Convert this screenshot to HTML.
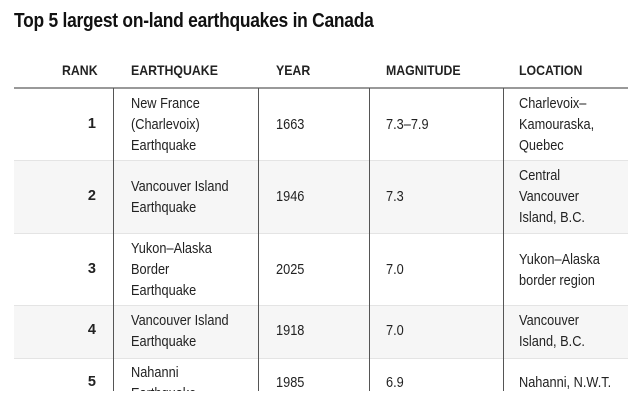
<!DOCTYPE html>
<html><head><style>
body{margin:0;width:640px;height:406px;background:#fff;position:relative;overflow:hidden;font-family:"Liberation Sans",sans-serif;color:#222}
.t{position:absolute;left:14px;top:9px;font-size:20.5px;font-weight:bold;letter-spacing:-0.3px;color:#111;transform:scaleX(0.85);transform-origin:left;white-space:nowrap}
.h{position:absolute;top:62px;font-size:14px;font-weight:bold;color:#222;transform:scaleX(0.88);transform-origin:left;white-space:nowrap}
.row{position:absolute;left:14px;width:614px}
.g{background:#f6f6f6}
.sep{position:absolute;left:14px;width:614px;height:1px;background:#e4e4e4}
.v{position:absolute;top:88px;height:303px;width:1px;background:#555}
.c{position:absolute;font-size:14.5px;line-height:21px;color:#222;transform:scaleX(0.88);transform-origin:left;white-space:nowrap}
.r{position:absolute;width:82px;left:14px;text-align:right;font-weight:bold;font-size:14.5px}
</style></head><body>
<div class="t">Top 5 largest on-land earthquakes in Canada</div>
<div class="h" style="left:62px">RANK</div>
<div class="h" style="left:131px">EARTHQUAKE</div>
<div class="h" style="left:276px">YEAR</div>
<div class="h" style="left:386px">MAGNITUDE</div>
<div class="h" style="left:519px">LOCATION</div>
<div class="row g" style="top:160px;height:73px"></div>
<div class="row g" style="top:305px;height:53px"></div>
<div class="sep" style="top:87px;height:2px;background:#999"></div>
<div class="sep" style="top:160px"></div>
<div class="sep" style="top:233px"></div>
<div class="sep" style="top:305px"></div>
<div class="sep" style="top:358px"></div>
<div class="v" style="left:113px"></div>
<div class="v" style="left:258px"></div>
<div class="v" style="left:369px"></div>
<div class="v" style="left:503px"></div>

<div class="r" style="top:116px">1</div>
<div class="c" style="left:131px;top:94px">New France<br>(Charlevoix)<br>Earthquake</div>
<div class="c" style="left:276px;top:115px">1663</div>
<div class="c" style="left:386px;top:115px">7.3–7.9</div>
<div class="c" style="left:519px;top:94px">Charlevoix–<br>Kamouraska,<br>Quebec</div>

<div class="r" style="top:188px">2</div>
<div class="c" style="left:131px;top:177px">Vancouver Island<br>Earthquake</div>
<div class="c" style="left:276px;top:187px">1946</div>
<div class="c" style="left:386px;top:187px">7.3</div>
<div class="c" style="left:519px;top:166px">Central<br>Vancouver<br>Island, B.C.</div>

<div class="r" style="top:261px">3</div>
<div class="c" style="left:131px;top:239px">Yukon–Alaska<br>Border<br>Earthquake</div>
<div class="c" style="left:276px;top:260px">2025</div>
<div class="c" style="left:386px;top:260px">7.0</div>
<div class="c" style="left:519px;top:250px">Yukon–Alaska<br>border region</div>

<div class="r" style="top:322px">4</div>
<div class="c" style="left:131px;top:311px">Vancouver Island<br>Earthquake</div>
<div class="c" style="left:276px;top:321px">1918</div>
<div class="c" style="left:386px;top:321px">7.0</div>
<div class="c" style="left:519px;top:311px">Vancouver<br>Island, B.C.</div>

<div style="position:absolute;left:0;top:359px;width:640px;height:32px;overflow:hidden">
<div class="r" style="top:15px">5</div>
<div class="c" style="left:131px;top:4px">Nahanni<br>Earthquake</div>
<div class="c" style="left:276px;top:14px">1985</div>
<div class="c" style="left:386px;top:14px">6.9</div>
<div class="c" style="left:519px;top:14px">Nahanni, N.W.T.</div>
</div>
</body></html>
